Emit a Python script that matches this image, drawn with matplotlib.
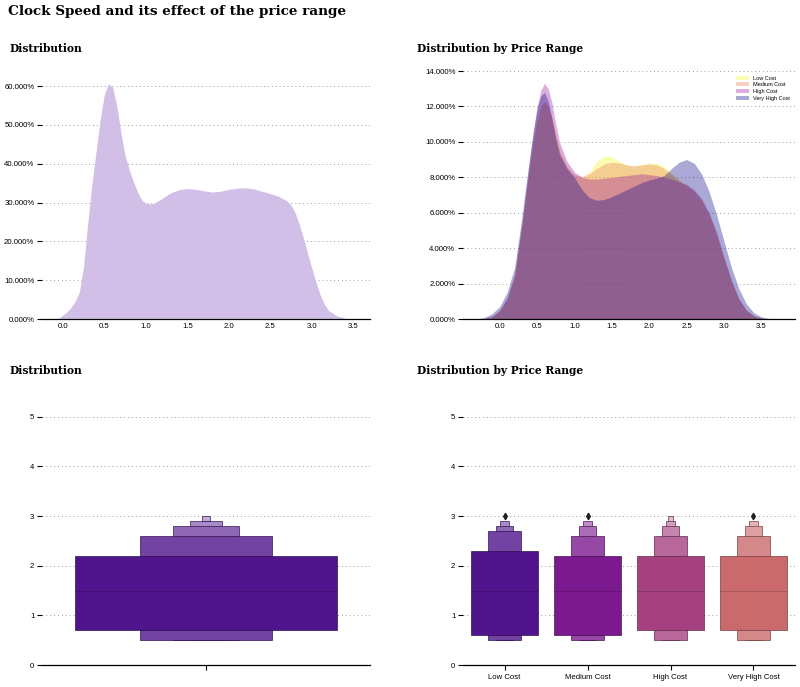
import numpy as np
import matplotlib
matplotlib.use("Agg")
import matplotlib.pyplot as plt
import matplotlib.ticker as mtick
from matplotlib.patches import Rectangle

plt.rcParams['font.family'] = ['Liberation Sans', 'DejaVu Sans']

# --- datos ---
# densidad global de clock_speed (fraccion)
clock_x = [-0.1, -0.05, 0.0, 0.05, 0.1, 0.15, 0.2, 0.25, 0.3, 0.35, 0.4, 0.45, 0.5, 0.55,
           0.6, 0.65, 0.7, 0.75, 0.8, 0.85, 0.9, 0.95, 1.0, 1.05, 1.1, 1.2, 1.3, 1.4, 1.5,
           1.6, 1.7, 1.8, 1.9, 2.0, 2.1, 2.2, 2.3, 2.4, 2.5, 2.6, 2.7, 2.75, 2.8, 2.85,
           2.9, 2.95, 3.0, 3.05, 3.1, 3.15, 3.2, 3.3, 3.4, 3.45]
clock_dens = [0.0, 0.002, 0.01, 0.018, 0.03, 0.046, 0.07, 0.135, 0.245, 0.345, 0.43, 0.512,
              0.578, 0.606, 0.597, 0.55, 0.48, 0.422, 0.384, 0.354, 0.327, 0.307, 0.298,
              0.296, 0.298, 0.311, 0.325, 0.333, 0.336, 0.334, 0.33, 0.327, 0.329, 0.334,
              0.337, 0.338, 0.335, 0.329, 0.323, 0.316, 0.304, 0.293, 0.273, 0.243, 0.207,
              0.168, 0.13, 0.095, 0.062, 0.038, 0.022, 0.008, 0.002, 0.0]

# densidad por rango de precio (en %)
price_labels = ['Low Cost', 'Medium Cost', 'High Cost', 'Very High Cost']
hue_x = [-0.3, -0.2, -0.1, 0.0, 0.1, 0.2, 0.3, 0.35, 0.4, 0.45, 0.5, 0.55, 0.6, 0.65, 0.7,
         0.75, 0.8, 0.9, 1.0, 1.1, 1.2, 1.3, 1.4, 1.5, 1.6, 1.7, 1.8, 1.9, 2.0, 2.1, 2.2,
         2.3, 2.4, 2.5, 2.6, 2.7, 2.8, 2.9, 3.0, 3.1, 3.2, 3.3, 3.4, 3.5, 3.6, 3.7]
dens_low = [0, 0.02, 0.12, 0.45, 1.1, 2.4, 5.3, 7.0, 8.6, 10.0, 11.2, 11.9, 12.2, 11.9, 11.2,
            10.3, 9.5, 8.5, 8.05, 7.95, 8.3, 8.9, 9.2, 9.15, 8.9, 8.7, 8.6, 8.7, 8.8, 8.8,
            8.6, 8.25, 7.9, 7.55, 7.2, 6.7, 5.9, 4.8, 3.4, 2.1, 1.1, 0.5, 0.18, 0.05, 0.01, 0]
dens_medium = [0, 0.02, 0.12, 0.45, 1.1, 2.4, 5.3, 7.0, 8.6, 10.0, 11.2, 12.0, 12.3, 12.0,
               11.3, 10.3, 9.5, 8.6, 8.15, 8.05, 8.2, 8.5, 8.75, 8.85, 8.8, 8.7, 8.65, 8.7,
               8.75, 8.7, 8.5, 8.15, 7.8, 7.5, 7.2, 6.7, 5.9, 4.8, 3.4, 2.1, 1.1, 0.5, 0.18,
               0.05, 0.01, 0]
dens_high = [0, 0.03, 0.15, 0.5, 1.2, 2.5, 5.5, 7.2, 8.9, 10.5, 11.9, 12.9, 13.3, 13.0, 12.2,
             11.0, 10.0, 8.9, 8.3, 8.0, 7.9, 7.9, 7.95, 8.0, 8.05, 8.1, 8.15, 8.2, 8.15, 8.1,
             8.0, 7.9, 7.75, 7.6, 7.3, 6.8, 6.0, 4.9, 3.5, 2.2, 1.15, 0.5, 0.18, 0.05, 0.01, 0]
dens_very_high = [0, 0.1, 0.3, 0.7, 1.5, 2.9, 5.8, 7.5, 9.1, 10.6, 11.9, 12.6, 12.8, 12.3,
                  11.3, 10.2, 9.3, 8.5, 8.0, 7.3, 6.85, 6.7, 6.75, 6.9, 7.1, 7.3, 7.5, 7.7,
                  7.85, 7.95, 8.1, 8.5, 8.85, 9.0, 8.8, 8.2, 7.2, 5.9, 4.4, 2.9, 1.7, 0.85,
                  0.35, 0.12, 0.03, 0]

# niveles del boxenplot: (bajo, alto) de cada nivel, de dentro hacia fuera
box_all_low = [0.7, 0.5, 0.5, 0.5, 2.9]
box_all_high = [2.2, 2.6, 2.8, 2.9, 3.0]
box_low = {'Low Cost': [0.6, 0.5, 0.5, 0.5],
           'Medium Cost': [0.6, 0.5, 0.5, 0.5],
           'High Cost': [0.7, 0.5, 0.5, 0.5, 0.5],
           'Very High Cost': [0.7, 0.5, 0.5, 0.5]}
box_high = {'Low Cost': [2.3, 2.7, 2.8, 2.9],
            'Medium Cost': [2.2, 2.6, 2.8, 2.9],
            'High Cost': [2.2, 2.6, 2.8, 2.9, 3.0],
            'Very High Cost': [2.2, 2.6, 2.8, 2.9]}
medians = [1.5, 1.5, 1.5, 1.5]
median_all = 1.5
outliers = {'Low Cost': [3.0], 'Medium Cost': [3.0], 'High Cost': [], 'Very High Cost': [3.0]}

# --- estilo ---
kde_colors = ['#f0f921', '#ed7953', '#9c179e', '#0d0887']
box_colors = ['#50148c', '#7b1a8e', '#a5417f', '#cb6a6d']
level_widths = [0.8, 0.4, 0.2, 0.1, 0.05]
level_widths_all = [0.8, 0.4, 0.2, 0.1, 0.025]
level_fade = [0.0, 0.2, 0.36, 0.5, 0.65]
serif = 'DejaVu Serif'

fig = plt.figure(figsize=(8, 6.87), dpi=100)
W, H = 800, 687


def make_ax(x0, x1, ytop, ybot):
    return fig.add_axes([x0 / W, (H - ybot) / H, (x1 - x0) / W, (ybot - ytop) / H])


def style(ax):
    for s in ['top', 'right', 'left']:
        ax.spines[s].set_visible(False)
    ax.spines['bottom'].set_linewidth(0.9)
    ax.grid(axis='y', linestyle=(0, (1, 3)), color='#999999', linewidth=0.7)
    ax.set_axisbelow(True)
    ax.tick_params(axis='y', labelsize=5.6, length=3.5, width=0.8, pad=2)
    ax.tick_params(axis='x', labelsize=5.6, length=0, pad=3)


def fade(c, t):
    rgb = np.array(matplotlib.colors.to_rgb(c))
    return tuple(rgb * (1 - t) + t)


def draw_boxen(ax, pos, lows, highs, widths, color, med, outs):
    n = len(lows)
    edge = tuple(np.array(matplotlib.colors.to_rgb(color)) * 0.55) + (0.8,)
    for i in range(n - 1, -1, -1):
        w = widths[i]
        ax.add_patch(Rectangle((pos - w / 2, lows[i]), w, highs[i] - lows[i],
                               facecolor=fade(color, level_fade[i]), edgecolor=edge,
                               linewidth=0.6, zorder=2 + (n - i) * 0.01))
    ax.plot([pos - widths[0] / 2, pos + widths[0] / 2], [med, med],
            color=tuple(np.array(matplotlib.colors.to_rgb(color)) * 0.7), alpha=0.8,
            linewidth=0.5, zorder=3)
    if outs:
        ax.scatter([pos] * len(outs), outs, marker='d', s=10, color='#222222', zorder=3)


# arriba izquierda
ax1 = make_ax(42, 370, 68, 319)
style(ax1)
ax1.fill_between(clock_x, clock_dens, color='#d2bfe7', linewidth=0)
ax1.set_xlim(-0.25, 3.7)
ax1.set_ylim(0, 0.6464)
ax1.set_yticks(np.arange(0, 0.61, 0.1))
ax1.set_xticks(np.arange(0, 3.6, 0.5))
ax1.yaxis.set_major_formatter(mtick.PercentFormatter(xmax=1, decimals=3))

# arriba derecha
ax2 = make_ax(463, 795, 68, 319)
style(ax2)
for lab, dens, c in zip(price_labels, [dens_low, dens_medium, dens_high, dens_very_high], kde_colors):
    ax2.fill_between(hue_x, np.array(dens) / 100, color=c, alpha=0.35, linewidth=0, label=lab)
ax2.set_xlim(-0.49, 3.95)
ax2.set_ylim(0, 0.1417)
ax2.set_yticks(np.arange(0, 0.141, 0.02))
ax2.set_xticks(np.arange(0, 3.6, 0.5))
ax2.yaxis.set_major_formatter(mtick.PercentFormatter(xmax=1, decimals=3))
ax2.legend(loc='upper right', fontsize=4, frameon=False, handlelength=2.2,
           handleheight=0.7, labelspacing=0.3, bbox_to_anchor=(1.0, 0.99))

# abajo izquierda
ax3 = make_ax(42, 370, 392, 665)
style(ax3)
draw_boxen(ax3, 0, box_all_low, box_all_high, level_widths_all, box_colors[0], median_all, [])
ax3.set_xlim(-0.5, 0.5)
ax3.set_ylim(0, 5.5)
ax3.set_yticks(range(6))
ax3.set_xticks([0])
ax3.set_xticklabels([''])
ax3.tick_params(axis='x', length=3.5, width=0.8)

# abajo derecha
ax4 = make_ax(463, 795, 392, 665)
style(ax4)
for i, lab in enumerate(price_labels):
    draw_boxen(ax4, i, box_low[lab], box_high[lab], level_widths, box_colors[i],
               medians[i], outliers[lab])
ax4.set_xlim(-0.5, 3.5)
ax4.set_ylim(0, 5.5)
ax4.set_yticks(range(6))
ax4.set_xticks(range(4))
ax4.set_xticklabels(price_labels)
ax4.tick_params(axis='x', length=3.5, width=0.8)

# titulos
fig.text(8 / W, 1 - 12 / H, 'Clock Speed and its effect of the price range', fontsize=9.7,
         fontweight='bold', family=serif, va='center', ha='left')
for x, y, t in [(9, 49, 'Distribution'), (417, 49, 'Distribution by Price Range'),
                (9, 371, 'Distribution'), (417, 371, 'Distribution by Price Range')]:
    fig.text(x / W, 1 - y / H, t, fontsize=7.7, fontweight='bold', family=serif,
             va='center', ha='left')

fig.savefig('out.png', dpi=100, facecolor='white')
